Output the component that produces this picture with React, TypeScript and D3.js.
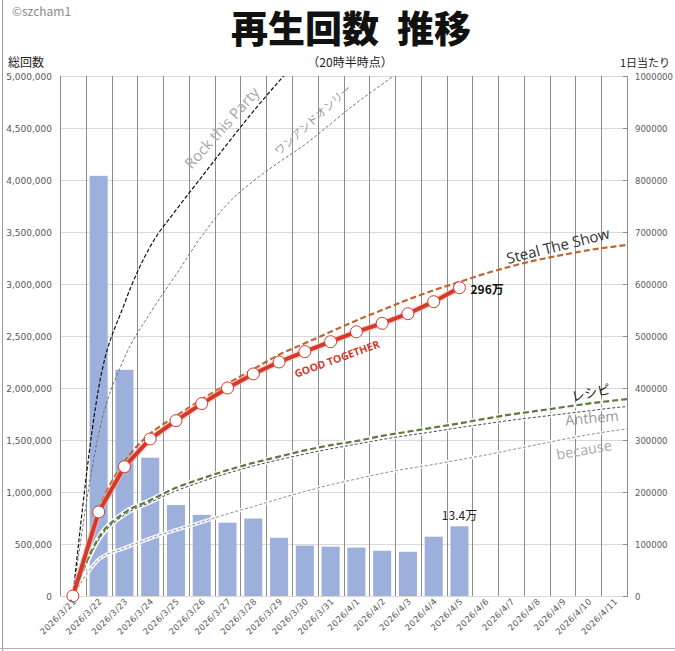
import * as d3 from "d3";
import { useEffect, useRef } from "react";

// カテゴリ（日付）
const dates = [
  "2026/3/21", "2026/3/22", "2026/3/23", "2026/3/24", "2026/3/25", "2026/3/26",
  "2026/3/27", "2026/3/28", "2026/3/29", "2026/3/30", "2026/3/31", "2026/4/1",
  "2026/4/2", "2026/4/3", "2026/4/4", "2026/4/5", "2026/4/6", "2026/4/7",
  "2026/4/8", "2026/4/9", "2026/4/10", "2026/4/11",
];

// 1日当たり（棒）
const daily = [
  null, 808000, 435000, 266000, 175000, 156000, 141000, 149000, 112000, 97000,
  95000, 93000, 87000, 85000, 114000, 134000,
];

// 総回数 GOOD TOGETHER
const goodTogether = [
  0, 808000, 1243000, 1510000, 1686000, 1850000, 2000000, 2135000, 2250000,
  2350000, 2445000, 2540000, 2622000, 2714000, 2830000, 2964000,
];

// 比較曲（最後の値は軸の外、4/12 相当）
const stealTheShow = [
  0, 830000, 1290000, 1560000, 1730000, 1890000, 2040000, 2180000, 2320000,
  2430000, 2540000, 2650000, 2750000, 2850000, 2940000, 3020000, 3100000,
  3170000, 3230000, 3280000, 3325000, 3360000, 3390000,
];
const rockThisParty = [
  0, 2000000, 2810000, 3360000, 3710000, 4030000, 4350000, 4660000, 4950000, 5220000,
];
const oneAndOnly = [
  0, 1560000, 2290000, 2720000, 3090000, 3460000, 3770000, 3990000, 4170000,
  4340000, 4540000, 4740000, 4920000, 5100000,
];
const recipe = [
  0, 560000, 800000, 920000, 1040000, 1130000, 1210000, 1280000, 1340000,
  1400000, 1450000, 1490000, 1540000, 1580000, 1620000, 1660000, 1705000,
  1745000, 1780000, 1815000, 1850000, 1880000, 1905000,
];
const anthem = [
  0, 540000, 780000, 900000, 1010000, 1100000, 1180000, 1250000, 1310000,
  1365000, 1415000, 1460000, 1505000, 1545000, 1580000, 1620000, 1655000,
  1690000, 1720000, 1750000, 1780000, 1810000, 1830000,
];
const because = [
  0, 350000, 460000, 555000, 635000, 710000, 790000, 860000, 935000, 1005000,
  1070000, 1125000, 1180000, 1225000, 1265000, 1310000, 1355000, 1405000,
  1455000, 1505000, 1550000, 1590000, 1620000,
];

const leftTicks = d3.range(0, 5000001, 500000);
const rightTicks = d3.range(0, 1000001, 100000);

const App = () => {
  const width = 675;
  const height = 651;
  const left = 60, right = 627, top = 76, bottom = 596;

  const svgRef = useRef<SVGSVGElement>(null!);

  useEffect(() => {
    const svg = d3.select(svgRef.current);
    svg.selectAll("*").remove();

    const x = d3.scaleBand().domain(dates).range([left, right]);
    const xi = d3.scaleLinear().domain([-0.5, dates.length - 0.5]).range([left, right]);
    const yL = d3.scaleLinear().domain([0, 5000000]).range([bottom, top]);
    const yR = d3.scaleLinear().domain([0, 1000000]).range([bottom, top]);
    const bw = x.bandwidth();

    svg.append("defs").append("clipPath").attr("id", "plot")
      .append("rect")
      .attr("x", left).attr("y", top)
      .attr("width", right - left).attr("height", bottom - top);

    // 外枠っぽい線
    svg.append("line").attr("x1", 2.5).attr("x2", 2.5).attr("y1", 0).attr("y2", height)
      .attr("stroke", "#9a9a9a");
    svg.append("line").attr("x1", 0).attr("x2", width).attr("y1", 648.5).attr("y2", 648.5)
      .attr("stroke", "#b0b0b0");

    // 横グリッド
    svg.append("g").selectAll("line").data(leftTicks).join("line")
      .attr("x1", left).attr("x2", right)
      .attr("y1", d => yL(d) + 0.5).attr("y2", d => yL(d) + 0.5)
      .attr("stroke", "#d9d9d9");

    // 縦の区切り線
    svg.append("g").selectAll("line").data(dates.slice(1)).join("line")
      .attr("x1", d => Math.round(x(d)!) + 0.5).attr("x2", d => Math.round(x(d)!) + 0.5)
      .attr("y1", top).attr("y2", bottom)
      .attr("stroke", "#8c8c8c");

    // 軸線
    svg.append("line").attr("x1", left + 0.5).attr("x2", left + 0.5).attr("y1", top).attr("y2", bottom)
      .attr("stroke", "#8c8c8c");
    svg.append("line").attr("x1", right + 0.5).attr("x2", right + 0.5).attr("y1", top).attr("y2", bottom)
      .attr("stroke", "#8c8c8c");
    svg.append("g").selectAll("line").data(rightTicks).join("line")
      .attr("x1", right - 4).attr("x2", right + 1)
      .attr("y1", d => yR(d) + 0.5).attr("y2", d => yR(d) + 0.5)
      .attr("stroke", "#8c8c8c");

    // 棒（1日当たり）
    const barData = daily.map((v, i) => ({ v, d: dates[i] })).filter(b => b.v != null);
    svg.append("g").selectAll("rect").data(barData).join("rect")
      .attr("x", b => x(b.d)! + bw * 0.15)
      .attr("width", bw * 0.7)
      .attr("y", b => yR(b.v as number))
      .attr("height", b => bottom - yR(b.v as number))
      .attr("fill", "#9dafdb");

    const plot = svg.append("g").attr("clip-path", "url(#plot)");
    const smooth = d3.line<number>().x((_, i) => xi(i)).y(d => yL(d)).curve(d3.curveMonotoneX);
    const line = d3.line<number>().x((_, i) => xi(i)).y(d => yL(d));

    const series = [
      { data: because, color: "#8f8f8f", w: 1, dash: "3,2", halo: true },
      { data: anthem, color: "#4a4a4a", w: 1, dash: "3,2", halo: true },
      { data: recipe, color: "#5d7a3c", w: 2.2, dash: "6,3", halo: true },
      { data: oneAndOnly, color: "#666", w: 0.9, dash: "3,2", halo: false },
      { data: rockThisParty, color: "#111", w: 1.2, dash: "4,2", halo: false },
      { data: stealTheShow, color: "#c2652f", w: 2.2, dash: "6,3", halo: false },
    ];
    series.forEach(s => {
      if (s.halo) {
        plot.append("path").attr("d", smooth(s.data)!)
          .attr("fill", "none").attr("stroke", "#fff").attr("stroke-opacity", 0.85)
          .attr("stroke-width", s.w + 3);
      }
    });
    series.forEach(s => {
      plot.append("path").attr("d", smooth(s.data)!)
        .attr("fill", "none").attr("stroke", s.color)
        .attr("stroke-width", s.w).attr("stroke-dasharray", s.dash);
    });

    // GOOD TOGETHER
    svg.append("path").attr("d", line(goodTogether)!)
      .attr("fill", "none").attr("stroke", "#f3b9ae").attr("stroke-width", 6.5)
      .attr("stroke-opacity", 0.6);
    svg.append("path").attr("d", line(goodTogether)!)
      .attr("fill", "none").attr("stroke", "#d8382a").attr("stroke-width", 4)
      .attr("stroke-linejoin", "round");
    svg.append("g").selectAll("circle").data(goodTogether).join("circle")
      .attr("cx", (_, i) => xi(i)).attr("cy", d => yL(d))
      .attr("r", 6)
      .attr("fill", "#fff").attr("stroke", "#d8382a").attr("stroke-width", 1);

    // 左軸ラベル
    svg.append("g").selectAll("text").data(leftTicks).join("text")
      .attr("x", 52).attr("y", d => yL(d) + 3.5)
      .attr("text-anchor", "end")
      .attr("font-family", "DejaVu Sans").attr("font-size", 9).attr("fill", "#595959")
      .text(d => d3.format(",")(d));

    // 右軸ラベル
    svg.append("g").selectAll("text").data(rightTicks).join("text")
      .attr("x", 635).attr("y", d => yR(d) + 3.5)
      .attr("font-family", "DejaVu Sans").attr("font-size", 8.5).attr("fill", "#595959")
      .text(d => String(d));

    // x軸ラベル
    svg.append("g").selectAll("text").data(dates).join("text")
      .attr("transform", d => `translate(${x(d)! + bw / 2 + 4},${bottom + 6}) rotate(-45)`)
      .attr("text-anchor", "end")
      .attr("font-family", "DejaVu Sans").attr("font-size", 8.5).attr("letter-spacing", 0.4)
      .attr("fill", "#595959")
      .text(d => d);

    // 曲名ラベル
    const labels = [
      { t: "Rock this Party", cx: 222, cy: 128, a: -48, size: 15, fill: "#a6a6a6", weight: "normal" },
      { t: "ワンアンドオンリー", cx: 313, cy: 120, a: -42, size: 11, fill: "#9a9a9a", weight: "normal" },
      { t: "Steal The Show", cx: 558, cy: 246, a: -14, size: 15, fill: "#333", weight: "normal" },
      { t: "GOOD TOGETHER", cx: 337, cy: 359, a: -20, size: 10.5, fill: "#d8382a", weight: "bold" },
      { t: "レシピ", cx: 591, cy: 393, a: -12, size: 13, fill: "#222", weight: "normal" },
      { t: "Anthem", cx: 592, cy: 418, a: -5, size: 14.5, fill: "#999", weight: "normal" },
      { t: "because", cx: 584, cy: 450, a: -10, size: 14.5, fill: "#aaa", weight: "normal" },
    ];
    svg.append("g").selectAll("text").data(labels).join("text")
      .attr("transform", l => `translate(${l.cx},${l.cy}) rotate(${l.a})`)
      .attr("text-anchor", "middle").attr("dy", "0.35em")
      .attr("font-family", "'Open Sans', 'Noto Sans CJK JP', sans-serif")
      .attr("font-size", l => l.size).attr("font-weight", l => l.weight)
      .attr("fill", l => l.fill)
      .text(l => l.t);

    const last = goodTogether.length - 1;
    svg.append("text")
      .attr("x", xi(last) + 11).attr("y", yL(goodTogether[last]) + 6)
      .attr("font-family", "'Noto Sans CJK JP', sans-serif").attr("font-weight", "bold")
      .attr("font-size", 12).attr("fill", "#111")
      .text("296万");
    const lastBar = daily.length - 1;
    svg.append("text")
      .attr("x", xi(lastBar)).attr("y", yR(daily[lastBar] as number) - 6)
      .attr("text-anchor", "middle")
      .attr("font-family", "'Noto Sans CJK JP', sans-serif")
      .attr("font-size", 12).attr("fill", "#222")
      .text("13.4万");

    // タイトル類
    const title = svg.append("text").attr("y", 43)
      .attr("font-family", "'Noto Sans CJK JP', sans-serif").attr("font-weight", 900)
      .attr("font-size", 37).attr("fill", "#111");
    title.append("tspan").attr("x", 305).attr("text-anchor", "middle").text("再生回数");
    title.append("tspan").attr("x", 434).attr("text-anchor", "middle").text("推移");
    svg.append("text").attr("x", 12).attr("y", 16)
      .attr("font-family", "'Noto Sans CJK JP', sans-serif")
      .attr("font-size", 12).attr("fill", "#8a8a8a")
      .text("©szcham1");
    svg.append("text").attr("x", 8).attr("y", 67)
      .attr("font-family", "'Noto Sans CJK JP', sans-serif")
      .attr("font-size", 12).attr("fill", "#222")
      .text("総回数");
    svg.append("text").attr("x", 670).attr("y", 67).attr("text-anchor", "end")
      .attr("font-family", "'Noto Sans CJK JP', sans-serif")
      .attr("font-size", 11).attr("fill", "#222")
      .text("1日当たり");
    svg.append("text").attr("x", 350).attr("y", 67).attr("text-anchor", "middle")
      .attr("font-family", "'Noto Sans CJK JP', sans-serif")
      .attr("font-size", 12).attr("fill", "#222")
      .text("（20時半時点）");
  }, []);

  return (
    <svg
      ref={svgRef}
      width={width}
      height={height}
      style={{ position: "absolute", left: 0, top: 0, background: "#fff" }}
    />
  );
};

export default App;
